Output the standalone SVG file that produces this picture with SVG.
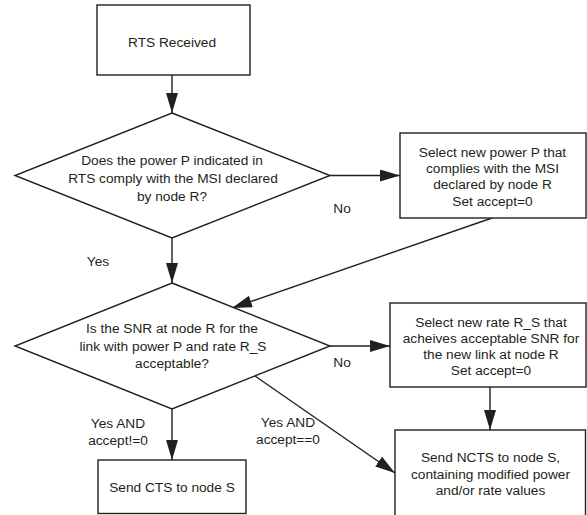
<svg xmlns="http://www.w3.org/2000/svg" width="587" height="515" viewBox="0 0 587 515">
<style>
.shape{fill:#ffffff;stroke:#231f20;stroke-width:1.4}
.conn{fill:none;stroke:#231f20;stroke-width:1.4;marker-end:url(#arr)}
text{font-family:"Liberation Sans",Arial,sans-serif;font-size:13.7px;fill:#231f20;text-anchor:middle}
</style>
<defs>
<marker id="arr" markerUnits="userSpaceOnUse" markerWidth="20" markerHeight="12" refX="20" refY="6" orient="auto">
<path d="M0,0 L20,6 L0,12 z" fill="#231f20"/>
</marker>
</defs>
<rect width="587" height="515" fill="#ffffff"/>
<g id="connectors">
<line class="conn" x1="172" y1="75" x2="172" y2="113"/>
<line class="conn" x1="330" y1="175.5" x2="400" y2="175.5"/>
<line class="conn" x1="172" y1="238" x2="172" y2="283"/>
<line class="conn" x1="492" y1="218" x2="232" y2="308"/>
<line class="conn" x1="330" y1="346" x2="390" y2="346"/>
<line class="conn" x1="172" y1="409" x2="172" y2="460"/>
<line class="conn" x1="255" y1="376" x2="395" y2="473"/>
<line class="conn" x1="490" y1="387" x2="490" y2="430"/>
<text x="342" y="213">No</text>
<text x="98" y="266">Yes</text>
<text x="342" y="367">No</text>
<text x="118" y="428">Yes AND</text>
<text x="118" y="445">accept!=0</text>
<text x="288" y="427">Yes AND</text>
<text x="288" y="444">accept==0</text>
</g>
<g id="rts-received">
<rect class="shape" x="97" y="5" width="153" height="70"/>
<text x="172" y="46.5">RTS Received</text>
</g>
<g id="power-check">
<polygon class="shape" points="172,113 330,175.5 172,238 15,175.5"/>
<text x="172" y="165">Does the power P indicated in</text>
<text x="173" y="183">RTS comply with the MSI declared</text>
<text x="172" y="201">by node R?</text>
</g>
<g id="select-power">
<rect class="shape" x="400" y="133" width="186" height="85"/>
<text x="492.5" y="156.5">Select new power P that</text>
<text x="492.5" y="172.5">complies with the MSI</text>
<text x="492.5" y="189">declared by node R</text>
<text x="492.5" y="205.5">Set accept=0</text>
</g>
<g id="snr-check">
<polygon class="shape" points="172,283 330,346 172,409 15,346"/>
<text x="172" y="333">Is the SNR at node R for the</text>
<text x="173" y="350.5">link with power P and rate R_S</text>
<text x="172" y="368">acceptable?</text>
</g>
<g id="select-rate">
<rect class="shape" x="390" y="303" width="196" height="84"/>
<text x="491" y="327">Select new rate R_S that</text>
<text x="491" y="342.5">acheives acceptable SNR for</text>
<text x="491" y="358.5">the new link at node R</text>
<text x="491" y="375">Set accept=0</text>
</g>
<g id="send-cts">
<rect class="shape" x="98" y="460" width="148" height="53.5"/>
<text x="172" y="492">Send CTS to node S</text>
</g>
<g id="send-ncts">
<rect class="shape" x="395" y="430" width="190.5" height="88"/>
<text x="490.5" y="462">Send NCTS to node S,</text>
<text x="490.5" y="478.5">containing modified power</text>
<text x="490.5" y="495">and/or rate values</text>
</g>
</svg>
